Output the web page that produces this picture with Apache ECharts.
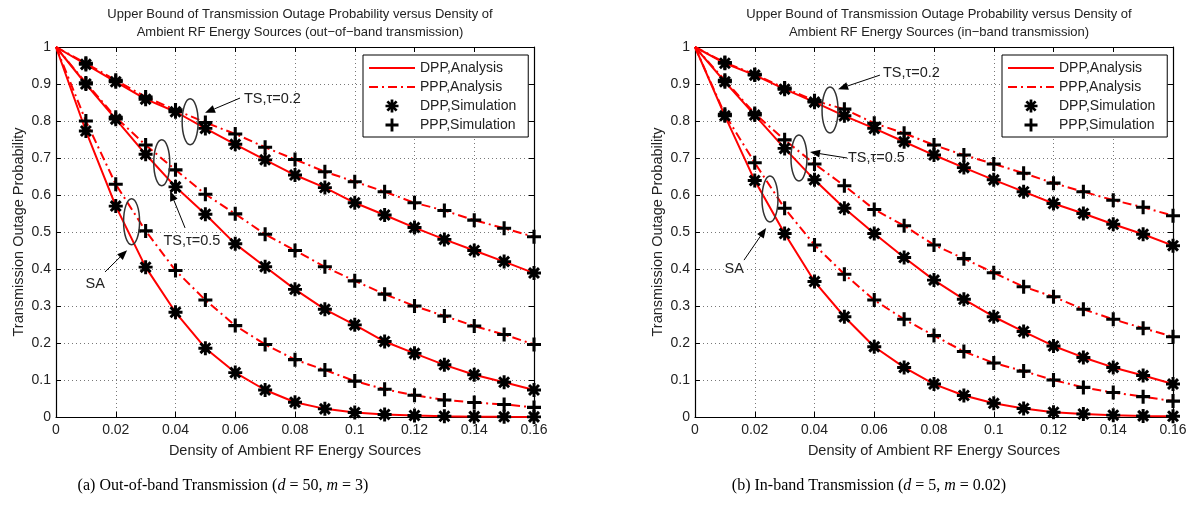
<!DOCTYPE html>
<html>
<head>
<meta charset="utf-8">
<script src="https://cdn.jsdelivr.net/npm/echarts@6/dist/echarts.min.js"></script>
<style>
  html, body { margin: 0; padding: 0; background: #fff; }
  #chart { width: 1190px; height: 512px; }
</style>
</head>
<body>
<div id="chart"></div>
<script>
// density of ambient RF energy sources (x)
const density = [0.01, 0.02, 0.03, 0.04, 0.05, 0.06, 0.07, 0.08, 0.09, 0.10, 0.11, 0.12, 0.13, 0.14, 0.15, 0.16]

// (a) out-of-band
const outTs02Dpp = [0.953, 0.906, 0.859, 0.825, 0.780, 0.737, 0.695, 0.654, 0.620, 0.579, 0.546, 0.512, 0.480, 0.450, 0.420, 0.389]
const outTs02Ppp = [0.956, 0.910, 0.865, 0.830, 0.796, 0.765, 0.729, 0.696, 0.663, 0.636, 0.609, 0.579, 0.558, 0.532, 0.510, 0.487]
const outTs05Dpp = [0.900, 0.805, 0.710, 0.622, 0.548, 0.468, 0.406, 0.345, 0.291, 0.249, 0.204, 0.172, 0.141, 0.114, 0.094, 0.073]
const outTs05Ppp = [0.903, 0.810, 0.735, 0.668, 0.602, 0.549, 0.494, 0.450, 0.406, 0.368, 0.332, 0.300, 0.273, 0.246, 0.223, 0.196]
const outSaDpp = [0.773, 0.570, 0.405, 0.283, 0.186, 0.120, 0.073, 0.040, 0.022, 0.012, 0.007, 0.004, 0.002, 0.001, 0.0005, 0.0003]
const outSaPpp = [0.800, 0.629, 0.503, 0.396, 0.316, 0.247, 0.196, 0.155, 0.127, 0.097, 0.075, 0.059, 0.046, 0.039, 0.034, 0.026]

// (b) in-band
const inTs02Dpp = [0.956, 0.924, 0.886, 0.851, 0.814, 0.780, 0.744, 0.708, 0.674, 0.641, 0.609, 0.577, 0.550, 0.521, 0.494, 0.463]
const inTs02Ppp = [0.958, 0.926, 0.889, 0.855, 0.832, 0.794, 0.767, 0.735, 0.708, 0.684, 0.659, 0.632, 0.609, 0.586, 0.567, 0.544]
const inTs05Dpp = [0.906, 0.816, 0.726, 0.641, 0.564, 0.496, 0.431, 0.370, 0.318, 0.271, 0.231, 0.192, 0.161, 0.134, 0.112, 0.089]
const inTs05Ppp = [0.910, 0.820, 0.749, 0.684, 0.625, 0.561, 0.517, 0.465, 0.428, 0.390, 0.352, 0.325, 0.291, 0.264, 0.240, 0.217]
const inSaDpp = [0.814, 0.639, 0.496, 0.366, 0.271, 0.190, 0.134, 0.089, 0.058, 0.037, 0.023, 0.013, 0.008, 0.005, 0.003, 0.002]
const inSaPpp = [0.818, 0.687, 0.564, 0.465, 0.386, 0.316, 0.264, 0.220, 0.177, 0.146, 0.124, 0.100, 0.080, 0.066, 0.055, 0.043]

const xTicks = [0, 0.02, 0.04, 0.06, 0.08, 0.1, 0.12, 0.14, 0.16]
const yTicks = [0, 0.1, 0.2, 0.3, 0.4, 0.5, 0.6, 0.7, 0.8, 0.9, 1]

const legendNames = ['DPP,Analysis', 'PPP,Analysis', 'DPP,Simulation', 'PPP,Simulation']

const titles = [
  'Upper Bound of Transmission Outage Probability versus Density of\nAmbient RF Energy Sources (out\u2212of\u2212band transmission)',
  'Upper Bound of Transmission Outage Probability versus Density of\nAmbient RF Energy Sources (in\u2212band transmission)'
]

// annotations: [label, ellipse centre x,y, arrow tail x,y, arrow tip x,y, label x,y, label align]
const notesOut = [
  ['TS,\u03c4=0.2', 0.0449, 0.798, 0.0616, 0.862, 0.0499, 0.822, 0.0629, 0.860, 'left'],
  ['TS,\u03c4=0.5', 0.0354, 0.687, 0.0432, 0.511, 0.0382, 0.611, 0.0455, 0.476, 'center'],
  ['SA', 0.0253, 0.528, 0.0164, 0.392, 0.0238, 0.451, 0.0131, 0.359, 'center']
]
const notesIn = [
  ['TS,\u03c4=0.2', 0.0452, 0.830, 0.0619, 0.924, 0.0479, 0.886, 0.0629, 0.930, 'left'],
  ['TS,\u03c4=0.5', 0.0348, 0.700, 0.0509, 0.700, 0.0385, 0.716, 0.0512, 0.700, 'left'],
  ['SA', 0.0251, 0.589, 0.0164, 0.424, 0.0238, 0.511, 0.0131, 0.400, 'center']
]

const FONT = 'Liberation Sans, Arial, Helvetica, sans-serif'
const RED = '#ff0000'

// MATLAB style markers
const STAR = 'path://M7.9,0 L12.1,0 L12.1,20 L7.9,20 Z M0,7.9 L20,7.9 L20,12.1 L0,12.1 Z ' +
  'M4.4,1.4 L18.6,15.6 L15.6,18.6 L1.4,4.4 Z M18.6,4.4 L4.4,18.6 L1.4,15.6 L15.6,1.4 Z'
const PLUS = 'path://M3.9,0 L6.1,0 L6.1,3.9 L10,3.9 L10,6.1 L6.1,6.1 L6.1,10 L3.9,10 L3.9,6.1 L0,6.1 L0,3.9 L3.9,3.9 Z'

const grids = [
  { left: 56, top: 47, width: 478, height: 370 },
  { left: 695, top: 47, width: 478, height: 370 }
]

function pairs(vals, withStart) {
  const out = density.map((x, i) => [x, vals[i]])
  if (withStart) out.unshift([0, 1])
  return out
}

const chart = echarts.init(document.getElementById('chart'), null, { renderer: 'canvas' })

const xAxis = []
const yAxis = []
grids.forEach((g, i) => {
  xAxis.push({
    gridIndex: i, type: 'value', min: 0, max: 0.16, interval: 0.02, position: 'bottom',
    name: 'Density of Ambient RF Energy Sources', nameLocation: 'middle', nameGap: 26,
    nameTextStyle: { fontFamily: FONT, fontSize: 14.5, color: '#222' },
    axisLine: { onZero: false, lineStyle: { color: '#000', width: 1.2 } },
    axisTick: { inside: true, length: 5, lineStyle: { color: '#000' } },
    axisLabel: { fontFamily: FONT, fontSize: 14, color: '#222', margin: 6,
      formatter: v => xTicks.includes(+v.toFixed(2)) ? String(+v.toFixed(2)) : '' },
    splitLine: { show: true, lineStyle: { color: '#555', type: [1, 3], width: 0.8 } }
  })
  xAxis.push({
    gridIndex: i, type: 'value', min: 0, max: 0.16, interval: 0.02, position: 'top',
    axisLine: { onZero: false, lineStyle: { color: '#000', width: 1.2 } },
    axisTick: { inside: true, length: 5, lineStyle: { color: '#000' } },
    axisLabel: { show: false }, splitLine: { show: false }
  })
  yAxis.push({
    gridIndex: i, type: 'value', min: 0, max: 1, interval: 0.1, position: 'left',
    name: 'Transmission Outage Probability', nameLocation: 'middle', nameGap: 30,
    nameTextStyle: { fontFamily: FONT, fontSize: 14.5, color: '#222' },
    axisLine: { onZero: false, lineStyle: { color: '#000', width: 1.2 } },
    axisTick: { inside: true, length: 5, lineStyle: { color: '#000' } },
    axisLabel: { fontFamily: FONT, fontSize: 14, color: '#222', margin: 5,
      formatter: v => yTicks.includes(+v.toFixed(1)) ? String(+v.toFixed(1)) : '' },
    splitLine: { show: true, lineStyle: { color: '#555', type: [1, 3], width: 0.8 } }
  })
  yAxis.push({
    gridIndex: i, type: 'value', min: 0, max: 1, interval: 0.1, position: 'right',
    axisLine: { onZero: false, lineStyle: { color: '#000', width: 1.2 } },
    axisTick: { inside: true, length: 5, lineStyle: { color: '#000' } },
    axisLabel: { show: false }, splitLine: { show: false }
  })
})

const panels = [
  [[outTs02Dpp, outTs02Ppp], [outTs05Dpp, outTs05Ppp], [outSaDpp, outSaPpp]],
  [[inTs02Dpp, inTs02Ppp], [inTs05Dpp, inTs05Ppp], [inSaDpp, inSaPpp]]
]

const series = []
panels.forEach((curves, p) => {
  const axes = { xAxisIndex: p * 2, yAxisIndex: p * 2 }
  curves.forEach(([dpp, ppp]) => {
    series.push({
      name: 'DPP,Analysis', type: 'line', ...axes, data: pairs(dpp, true),
      showSymbol: false, smooth: false, z: 3,
      lineStyle: { color: RED, width: 2 }, itemStyle: { color: RED }
    })
    series.push({
      name: 'PPP,Analysis', type: 'line', ...axes, data: pairs(ppp, true),
      showSymbol: false, smooth: false, z: 3,
      lineStyle: { color: RED, width: 2, type: [9, 4, 2, 4] }, itemStyle: { color: RED }
    })
  })
  curves.forEach(([dpp, ppp]) => {
    series.push({
      name: 'DPP,Simulation', type: 'scatter', ...axes, data: pairs(dpp, false),
      symbol: STAR, symbolSize: 14, z: 5, itemStyle: { color: '#000', opacity: 1 }
    })
    series.push({
      name: 'PPP,Simulation', type: 'scatter', ...axes, data: pairs(ppp, false),
      symbol: PLUS, symbolSize: 14, z: 5, itemStyle: { color: '#000', opacity: 1 }
    })
  })
})

// analysis entries: hide the marker so only the line sample stays
const legendData = legendNames.map(n => n.indexOf('Analysis') > 0
  ? { name: n, itemStyle: { opacity: 0 } }
  : { name: n })

const legend = grids.map((g, i) => ({
  data: legendData,
  orient: 'vertical', left: i === 0 ? 363 : 1002, top: 55,
  itemWidth: 46, itemHeight: 13, itemGap: 5, padding: [6, 12, 5, 5],
  backgroundColor: '#fff', borderColor: '#000', borderWidth: 1, borderRadius: 0,
  selectedMode: false,
  textStyle: { fontFamily: FONT, fontSize: 14, color: '#222' }
}))

const title = titles.map((t, i) => ({
  text: t, left: grids[i].left + grids[i].width / 2, top: 0, textAlign: 'center',
  textStyle: { fontFamily: FONT, fontSize: 13, fontWeight: 'normal', color: '#222', lineHeight: 18 }
}))

chart.setOption({
  animation: false,
  backgroundColor: '#fff',
  title,
  legend,
  grid: grids,
  xAxis,
  yAxis,
  series
})

// ellipses, arrows and labels placed in data coordinates
function arrow(t, h) {
  const ang = Math.atan2(h[1] - t[1], h[0] - t[0])
  const len = 10, wid = 4
  const bx = h[0] - len * Math.cos(ang), by = h[1] - len * Math.sin(ang)
  const nx = -Math.sin(ang) * wid, ny = Math.cos(ang) * wid
  return [
    { type: 'line', shape: { x1: t[0], y1: t[1], x2: bx, y2: by }, style: { stroke: '#000', lineWidth: 1 }, z: 20 },
    { type: 'polygon', shape: { points: [h, [bx + nx, by + ny], [bx - nx, by - ny]] }, style: { fill: '#000' }, z: 20 }
  ]
}

const graphic = []
;[notesOut, notesIn].forEach((notes, p) => {
  const finder = { xAxisIndex: p * 2, yAxisIndex: p * 2 }
  notes.forEach(n => {
    const c = chart.convertToPixel(finder, [n[1], n[2]])
    const tail = chart.convertToPixel(finder, [n[3], n[4]])
    const tip = chart.convertToPixel(finder, [n[5], n[6]])
    const lab = chart.convertToPixel(finder, [n[7], n[8]])
    graphic.push({ type: 'ellipse', shape: { cx: c[0], cy: c[1], rx: 8, ry: 23 },
      style: { fill: null, stroke: '#333', lineWidth: 1.5 }, z: 20 })
    graphic.push(...arrow(tail, tip))
    graphic.push({ type: 'text', x: lab[0], y: lab[1], z: 20,
      style: { text: n[0], font: '14.5px ' + FONT, fill: '#222', align: n[9], verticalAlign: 'middle',
        backgroundColor: n[9] === 'center' ? '#fff' : null } })
  })
})

const captions = [
  ['(a) Out-of-band Transmission (', 'd', ' = 50, ', 'm', ' = 3)', 223],
  ['(b) In-band Transmission (', 'd', ' = 5, ', 'm', ' = 0.02)', 869]
]
captions.forEach(c => {
  graphic.push({
    type: 'text', x: c[5], y: 486, z: 20,
    style: {
      text: c[0] + '{i|' + c[1] + '}' + c[2] + '{i|' + c[3] + '}' + c[4],
      font: '16px Liberation Serif, Times New Roman, serif', fill: '#000',
      align: 'center', verticalAlign: 'middle',
      rich: { i: { fontStyle: 'italic', fontFamily: 'Liberation Serif, serif', fontSize: 16 } }
    }
  })
})

chart.setOption({ graphic })
</script>
</body>
</html>
